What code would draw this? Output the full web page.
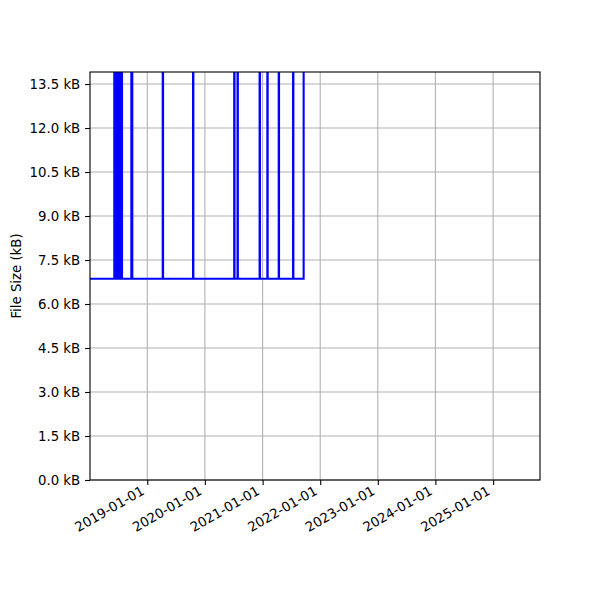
<!DOCTYPE html>
<html>
<head>
<meta charset="utf-8">
<script src="https://cdn.jsdelivr.net/npm/d3@7"></script>
<style>
  body { margin: 0; background: #fff; }
  svg { display: block; }
  svg text { font-family: "DejaVu Sans", sans-serif; fill: #000; font-size: 13.3px; }
  .grid line { stroke: #b0b0b0; stroke-width: 1.1; }
  .axis-g line { stroke: #000; stroke-width: 1.1; }
  .size-line { fill: none; stroke: #0000ff; stroke-width: 2.08; }
  .spines { fill: none; stroke: #000; stroke-width: 1.1; }
</style>
</head>
<body>
<div id="chart"></div>
<script>
// commit dates and file size (kB) at each commit
const commitDates = [
  "2018-01-03",
  "2018-06-06", "2018-06-09", "2018-06-13", "2018-06-26",
  "2018-06-30", "2018-07-04", "2018-07-08", "2018-07-12",
  "2018-07-16", "2018-07-20", "2018-07-22", "2018-07-25",
  "2018-09-22", "2018-09-28",
  "2019-04-09", "2019-04-11",
  "2019-10-18", "2019-10-20",
  "2020-07-05", "2020-07-07",
  "2020-07-26", "2020-07-28",
  "2020-12-13", "2020-12-15",
  "2021-01-31", "2021-02-02",
  "2021-04-13", "2021-04-15",
  "2021-07-13", "2021-07-15",
  "2021-09-18",
];
const fileSizesKB = [
  6.86,
  20.6, 6.86, 20.6, 6.86,
  20.6, 6.86, 20.6, 6.86,
  20.6, 6.86, 20.6, 6.86,
  20.6, 6.86,
  20.6, 6.86,
  20.6, 6.86,
  20.6, 6.86,
  20.6, 6.86,
  20.6, 6.86,
  20.6, 6.86,
  20.6, 6.86,
  20.6, 6.86,
  20.6,
];
const xTickDates = [
  "2019-01-01", "2020-01-01", "2021-01-01", "2022-01-01",
  "2023-01-01", "2024-01-01", "2025-01-01",
];
const yTickValues = [0, 1.5, 3, 4.5, 6, 7.5, 9, 10.5, 12, 13.5];
const xExtent = ["2018-01-03", "2025-10-25"];
const yExtent = [0, 13.91];

class FileSizeChart {
  constructor({ el }) {
    this.el = el;
    this.init();
  }

  init() {
    this.wrangleData();

    this.width = 600;
    this.height = 600;
    this.margin = { top: 72, right: 60, bottom: 120, left: 90 };
    this.tickLen = 4.9;

    const parse = d3.utcParse("%Y-%m-%d");
    this.x = d3
      .scaleUtc()
      .domain(xExtent.map(parse))
      .range([this.margin.left, this.width - this.margin.right]);
    this.y = d3
      .scaleLinear()
      .domain(yExtent)
      .range([this.height - this.margin.bottom, this.margin.top]);
    this.xTicks = xTickDates.map(parse);

    this.svg = d3
      .select(this.el)
      .append("svg")
      .attr("width", this.width)
      .attr("height", this.height)
      .attr("viewBox", [0, 0, this.width, this.height]);

    this.svg
      .append("clipPath")
      .attr("id", "plot-clip")
      .append("rect")
      .attr("x", this.margin.left)
      .attr("y", this.margin.top)
      .attr("width", this.width - this.margin.left - this.margin.right)
      .attr("height", this.height - this.margin.top - this.margin.bottom);

    this.render();
  }

  wrangleData() {
    const parse = d3.utcParse("%Y-%m-%d");
    this.data = commitDates.map((d, i) => ({
      date: parse(d),
      size: fileSizesKB[i],
    }));
  }

  render() {
    const [x0, x1] = this.x.range();
    const [y0, y1] = this.y.range();

    // grid
    const grid = this.svg.append("g").attr("class", "grid");
    grid
      .selectAll(".gx")
      .data(this.xTicks)
      .join("line")
      .attr("x1", (d) => this.x(d))
      .attr("x2", (d) => this.x(d))
      .attr("y1", y0)
      .attr("y2", y1);
    grid
      .selectAll(".gy")
      .data(yTickValues)
      .join("line")
      .attr("x1", x0)
      .attr("x2", x1)
      .attr("y1", (d) => this.y(d))
      .attr("y2", (d) => this.y(d));

    // the size line
    const line = d3
      .line()
      .x((d) => this.x(d.date))
      .y((d) => this.y(d.size))
      .curve(d3.curveStepAfter);
    this.svg
      .append("path")
      .datum(this.data)
      .attr("class", "size-line")
      .attr("clip-path", "url(#plot-clip)")
      .attr("d", line);

    // axes
    const gX = this.svg
      .append("g")
      .attr("class", "axis-g")
      .attr("transform", `translate(0,${y0})`)
      .call(
        d3
          .axisBottom(this.x)
          .tickValues(this.xTicks)
          .tickSize(this.tickLen)
          .tickFormat(d3.utcFormat("%Y-%m-%d"))
      )
      .attr("font-family", null)
      .attr("font-size", null);
    gX.select(".domain").remove();
    gX.selectAll("text")
      .attr("y", 0)
      .attr("dy", 0)
      .attr("text-anchor", "end")
      .attr("transform", "translate(-2.5,13.5) rotate(-30)");

    const gY = this.svg
      .append("g")
      .attr("class", "axis-g")
      .attr("transform", `translate(${x0},0)`)
      .call(
        d3
          .axisLeft(this.y)
          .tickValues(yTickValues)
          .tickSize(this.tickLen)
          .tickPadding(4.9)
          .tickFormat((d) => d.toFixed(1) + " kB")
      )
      .attr("font-family", null)
      .attr("font-size", null);
    gY.select(".domain").remove();

    this.svg
      .append("text")
      .attr("transform", `translate(21,${(y0 + y1) / 2}) rotate(-90)`)
      .attr("text-anchor", "middle")
      .text("File Size (kB)");

    this.svg
      .append("rect")
      .attr("class", "spines")
      .attr("x", x0)
      .attr("y", y1)
      .attr("width", x1 - x0)
      .attr("height", y0 - y1);
  }
}

new FileSizeChart({ el: document.getElementById("chart") });
</script>
</body>
</html>
